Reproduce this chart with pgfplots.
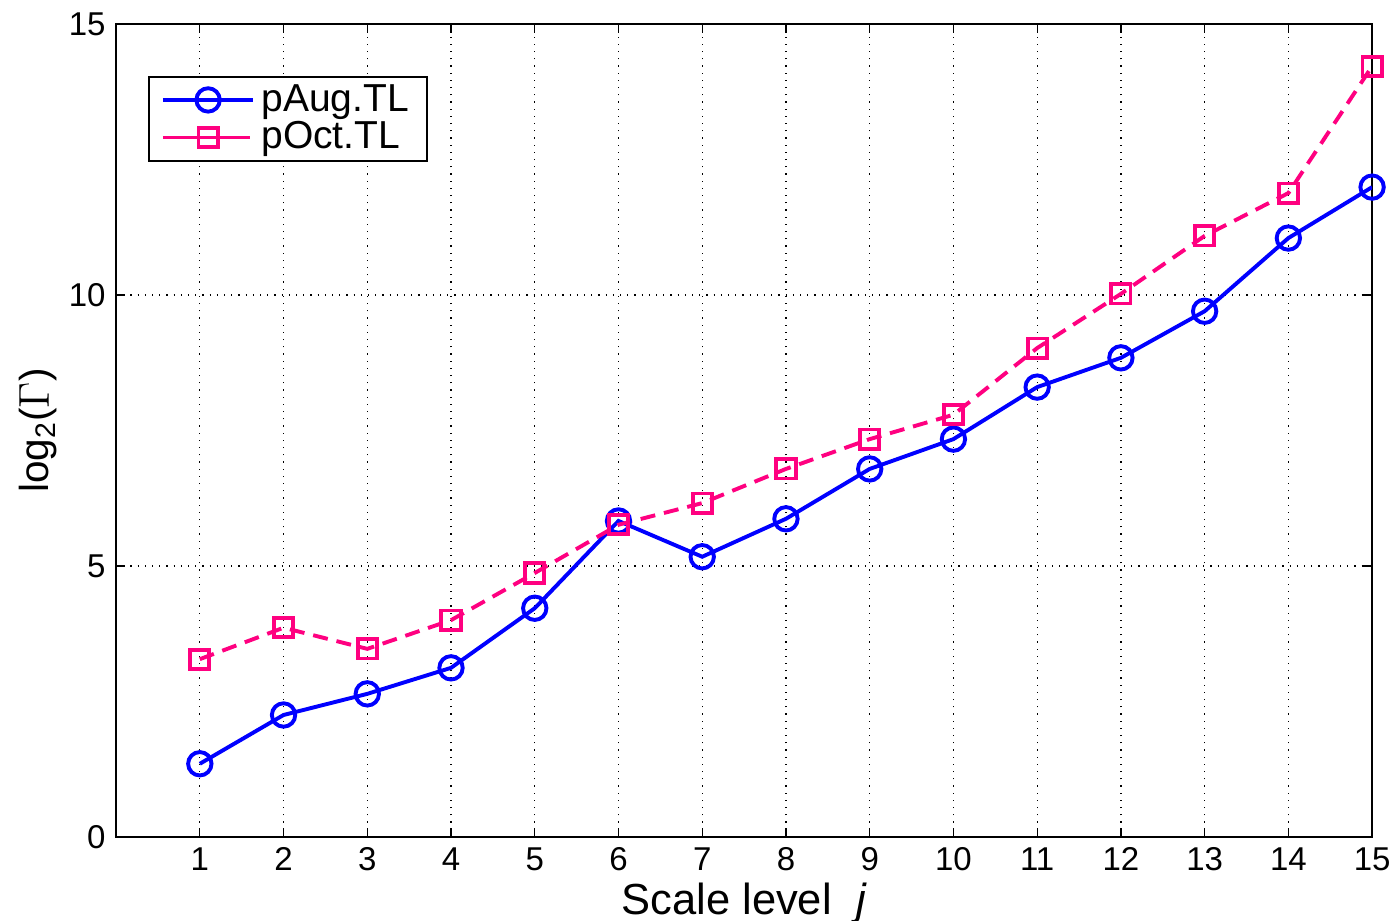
\documentclass[border=0pt]{standalone}
\usepackage{pgfplots}
\pgfplotsset{compat=1.18}
\usepackage{fontspec}
\setmainfont{Liberation Sans}
\definecolor{cblue}{rgb}{0,0,1}
\definecolor{cpink}{rgb}{1,0,0.5}
\begin{document}
\begin{tikzpicture}
\begin{axis}[
  name=ax,
  scale only axis,
  width=418.7pt, height=271pt,
  xmin=0, xmax=15, ymin=0, ymax=15,
  xtick={1,...,15}, ytick={0,5,10,15},
  tick align=inside,
  tick style={black, line width=0.4pt},
  major tick length=3pt,
  grid=major,
  grid style={black, dotted, line width=0.4pt},
  axis line style={black, line width=0.5pt},
  /pgf/number format/assume math mode=true,
  tick label style={font=\fontsize{11}{12}\selectfont},
  xlabel={Scale level \ \textit{j}},
  ylabel={log\textsubscript{2}($\Gamma$)},
  xlabel style={font=\fontsize{14.5}{16}\selectfont, yshift=3pt},
  ylabel style={font=\fontsize{13.5}{15}\selectfont, yshift=-3pt},
  legend style={at={(0.0255,0.936)}, anchor=north west, draw=black, line width=0.5pt,
    font=\fontsize{13}{13}\selectfont, row sep=-2pt, inner xsep=4pt, inner ysep=0.5pt},
  legend cell align=left,
  legend image code/.code={
    \draw[#1] (0cm,0cm) -- (0.78cm,0cm);
    \draw[#1, mark repeat=1] plot coordinates {(0.39cm,0cm)};
    \path (-4pt,0cm) -- (0.78cm+4pt,0cm);
  },
]
\addplot[color=cblue, line width=1.3pt, mark=o, mark size=3.9pt, mark options={solid, line width=1.3pt}]
coordinates {
(1,1.35) (2,2.25) (3,2.64) (4,3.12) (5,4.22) (6,5.83) (7,5.17) (8,5.87)
(9,6.79) (10,7.34) (11,8.30) (12,8.84) (13,9.70) (14,11.05) (15,11.99)
};
\addlegendentry{pAug.TL}
\addplot[color=cpink, line width=1.3pt, dashed, dash pattern=on 5pt off 3pt, mark=square, mark size=3.2pt, mark options={solid, line width=1.3pt}]
coordinates {
(1,3.28) (2,3.86) (3,3.47) (4,4.00) (5,4.87) (6,5.76) (7,6.16) (8,6.79)
(9,7.34) (10,7.79) (11,9.02) (12,10.02) (13,11.09) (14,11.88) (15,14.22)
};
\addlegendentry{pOct.TL}
\end{axis}
\pgfresetboundingbox
\path[use as bounding box] ([xshift=-38.7pt,yshift=-28pt]ax.south west) rectangle ([xshift=8.3pt,yshift=8pt]ax.north east);
\end{tikzpicture}
\end{document}
